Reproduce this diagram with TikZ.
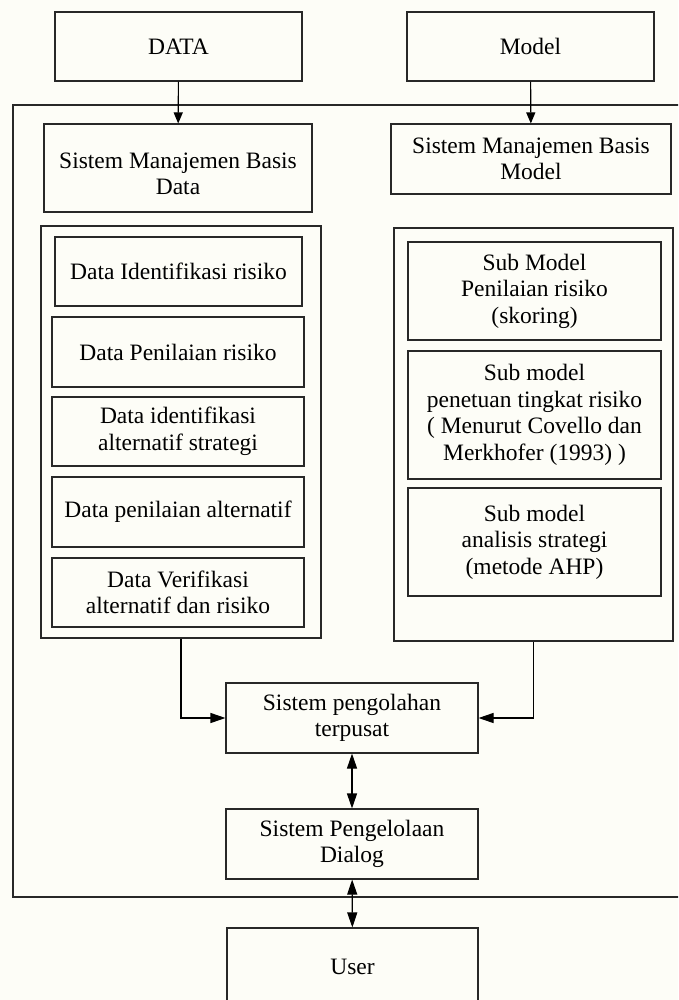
\documentclass[tikz,border=0pt]{standalone}
\usepackage{fontspec}
\setmainfont{Liberation Serif}
\usetikzlibrary{arrows.meta}
\definecolor{bgc}{RGB}{253,253,247}
\definecolor{lnc}{RGB}{40,40,40}
\tikzset{
  box/.style={draw=lnc, line width=1.1pt, rectangle, inner sep=0pt, align=center,
    font=\fontsize{23.5}{26.5}\selectfont},
  txt/.style={inner sep=0pt, align=center, font=\fontsize{23.5}{26.5}\selectfont},
  frame/.style={draw=lnc, line width=1.1pt, rectangle, inner sep=0pt},
  conn/.style={draw=black, line width=1.1pt},
  arrS/.style={conn, -{Triangle[length=11pt,width=9pt]}},
  arrL/.style={conn, -{Triangle[length=15pt,width=10pt]}},
  darr/.style={conn, {Triangle[length=15pt,width=10pt]}-{Triangle[length=15pt,width=10pt]}}
}
\begin{document}
\begin{tikzpicture}[x=1pt,y=-1pt]
\useasboundingbox (0,0) rectangle (678,1000);
\clip (0,0) rectangle (678,1000);
\fill[bgc] (0,0) rectangle (678,1000);

% outer system frame (right side beyond the picture)
\draw[lnc, line width=1.1pt] (690,105) -- (13,105) -- (13,897) -- (690,897);

% top sources
\node[box, minimum width=247, minimum height=69] (data) at (178.5,46.5) {DATA};
\node[box, minimum width=247, minimum height=69] (model) at (530.5,46.5) {Model};

% management systems
\node[box, minimum width=268, minimum height=88] (smbd) at (178,168) {};
\node[txt] (smbdt) at (178,174) {Sistem Manajemen Basis\\Data};
\node[box, minimum width=280, minimum height=70] (smbm) at (531,159) {Sistem Manajemen Basis\\Model};

% containers
\node[frame, minimum width=280, minimum height=412] (lc) at (181,432) {};
\node[frame, minimum width=279, minimum height=413] (rc) at (533.5,434.5) {};

% data boxes
\node[box, minimum width=247, minimum height=69] (dir) at (178.5,271.5) {Data Identifikasi risiko};
\node[box, minimum width=252, minimum height=70] (dpr) at (178,352) {Data Penilaian risiko};
\node[box, minimum width=252, minimum height=69] (dias) at (178,431.5) {Data identifikasi\\alternatif strategi};
\node[box, minimum width=252, minimum height=70] (dpa) at (178,512) {Data penilaian alternatif};
\node[box, minimum width=252, minimum height=69] (dvar) at (178,592.5) {Data Verifikasi\\alternatif dan risiko};

% sub models
\node[box, minimum width=253, minimum height=98] (smpr) at (534.5,291) {Sub Model\\Penilaian risiko\\(skoring)};
\node[box, minimum width=253, minimum height=128] (smptr) at (534.5,415) {Sub model\\penetuan tingkat risiko\\( Menurut Covello dan\\Merkhofer (1993) )};
\node[box, minimum width=253, minimum height=108] (smas) at (534.5,542) {Sub model\\analisis strategi\\(metode AHP)};

% processing
\node[box, minimum width=252, minimum height=70] (sp) at (352,718) {Sistem pengolahan\\terpusat};
\node[box, minimum width=252, minimum height=70] (spd) at (352,844) {Sistem Pengelolaan\\Dialog};
\node[box, minimum width=251, minimum height=77] (user) at (352.5,966.5) {User};

% connectors
\draw[arrS] (data) -- (smbd);
\draw[arrS] (model) -- (smbm);
\draw[arrL] (lc.south) |- (sp.west);
\draw[arrL] (rc.south) |- (sp.east);
\draw[darr] (sp) -- (spd);
\draw[darr] (spd) -- (user);
\end{tikzpicture}
\end{document}
